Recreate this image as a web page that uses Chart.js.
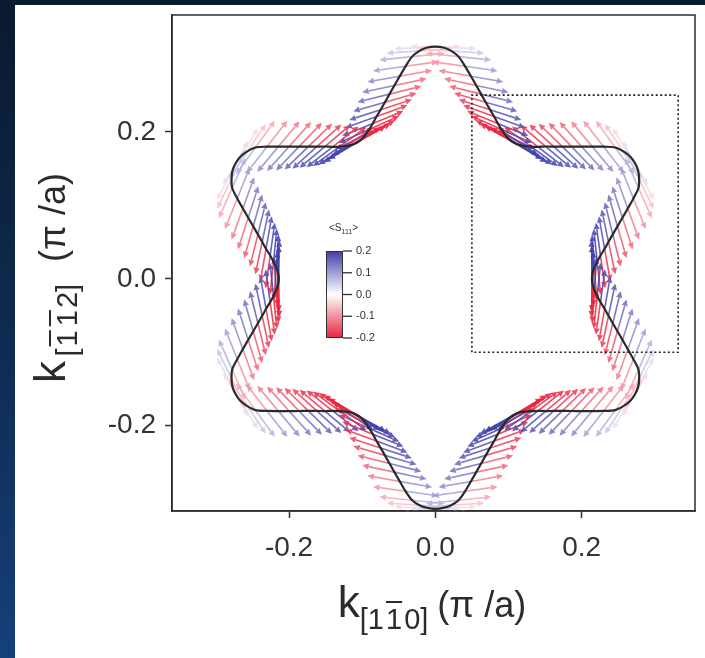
<!DOCTYPE html>
<html>
<head>
<meta charset="utf-8">
<script src="https://cdn.jsdelivr.net/npm/chart.js@4.4.1/dist/chart.umd.min.js"></script>
<style>
  html, body { margin:0; padding:0; width:705px; height:658px; overflow:hidden; }
  body { background: linear-gradient(180deg, #0a1a2f 0%, #0f2c53 55%, #15407a 100%); position:relative; font-family:"Liberation Sans", Arial, sans-serif; }
  #panel { position:absolute; left:15px; top:5px; width:690px; height:653px; background:#fff; }
  #c { position:absolute; left:0; top:0; }
  .title { position:absolute; white-space:nowrap; color:#2b2b2b; text-align:center; }
  .title .k { font-size:44px; }
  .title sub { font-size:29px; vertical-align:-0.42em; }
  .title .u { font-size:36px; margin-left:9px; }
  .ob { text-decoration: overline; text-decoration-thickness:2px; margin:0 2px; }
  #xtitle { left:282px; top:570px; width:300px; height:64px; line-height:64px; }
  #ytitle { left:-110px; top:246px; width:320px; height:64px; line-height:64px; transform:rotate(-90deg); }
  #ytitle .u { margin-left:22px; }
</style>
</head>
<body>
<div id="panel"></div>
<canvas id="c" width="705" height="658"></canvas>
<div id="xtitle" class="title"><span class="k">k</span><sub>[1<span class="ob">1</span>0]</sub><span class="u">(π /a)</span></div>
<div id="ytitle" class="title"><span class="k">k</span> <sub>[<span class="ob">1</span><span class="ob">1</span>2]</sub><span class="u">(π /a)</span></div>
<script>
// ---- Data ----
// Polar angle of each sampled point on the Fermi contour (degrees)
const thetaDeg = [
  0,2,4,6,8,10,12,14,16,18,20,22,24,26,28,30,32,34,36,38,40,42,44,46,48,50,52,54,56,58,
  60,62,64,66,68,70,72,74,76,78,80,82,84,86,88,90,92,94,96,98,100,102,104,106,108,110,112,114,116,118,
  120,122,124,126,128,130,132,134,136,138,140,142,144,146,148,150,152,154,156,158,160,162,164,166,168,170,172,174,176,178,
  180,182,184,186,188,190,192,194,196,198,200,202,204,206,208,210,212,214,216,218,220,222,224,226,228,230,232,234,236,238,
  240,242,244,246,248,250,252,254,256,258,260,262,264,266,268,270,272,274,276,278,280,282,284,286,288,290,292,294,296,298,
  300,302,304,306,308,310,312,314,316,318,320,322,324,326,328,330,332,334,336,338,340,342,344,346,348,350,352,354,356,358
];
// Radius of the contour at each angle (pi/a)
const radius = [
  0.214,0.215,0.218,0.2225,0.228,0.235,0.242,0.250,0.259,0.269,0.280,0.292,0.304,0.310,0.314,0.315,0.314,0.310,0.304,0.292,0.280,0.269,0.259,0.250,0.242,0.235,0.228,0.2225,0.218,0.215,
  0.214,0.215,0.218,0.2225,0.228,0.235,0.242,0.250,0.259,0.269,0.280,0.292,0.304,0.311,0.315,0.316,0.315,0.311,0.304,0.292,0.280,0.269,0.259,0.250,0.242,0.235,0.228,0.2225,0.218,0.215,
  0.214,0.215,0.218,0.2225,0.228,0.235,0.242,0.250,0.259,0.269,0.280,0.292,0.304,0.310,0.314,0.315,0.314,0.310,0.304,0.292,0.280,0.269,0.259,0.250,0.242,0.235,0.228,0.2225,0.218,0.215,
  0.214,0.215,0.218,0.2225,0.228,0.235,0.242,0.250,0.259,0.269,0.280,0.292,0.304,0.310,0.314,0.315,0.314,0.310,0.304,0.292,0.280,0.269,0.259,0.250,0.242,0.235,0.228,0.2225,0.218,0.215,
  0.214,0.215,0.218,0.2225,0.228,0.235,0.242,0.250,0.259,0.269,0.280,0.292,0.303,0.309,0.312,0.313,0.312,0.309,0.303,0.292,0.280,0.269,0.259,0.250,0.242,0.235,0.228,0.2225,0.218,0.215,
  0.214,0.215,0.218,0.2225,0.228,0.235,0.242,0.250,0.259,0.269,0.280,0.292,0.304,0.310,0.314,0.315,0.314,0.310,0.304,0.292,0.280,0.269,0.259,0.250,0.242,0.235,0.228,0.2225,0.218,0.215
];
// In-plane spin direction of the first branch at each point (degrees)
const spinDir = [
  90,92,94,96,98,100,102,104,106,108,110,112,114,116,118,120,122,124,126,128,130,132,134,136,138,140,142,144,146,148,
  150,152,154,156,158,160,162,164,166,168,170,172,174,176,178,180,182,184,186,188,190,192,194,196,198,200,202,204,206,208,
  210,212,214,216,218,220,222,224,226,228,230,232,234,236,238,240,242,244,246,248,250,252,254,256,258,260,262,264,266,268,
  270,272,274,276,278,280,282,284,286,288,290,292,294,296,298,300,302,304,306,308,310,312,314,316,318,320,322,324,326,328,
  330,332,334,336,338,340,342,344,346,348,350,352,354,356,358,0,2,4,6,8,10,12,14,16,18,20,22,24,26,28,
  30,32,34,36,38,40,42,44,46,48,50,52,54,56,58,60,62,64,66,68,70,72,74,76,78,80,82,84,86,88
];
// Out-of-plane spin <S111> of the first branch (arrow along spinDir)
const sBranchA = [
  0.200,0.199,0.196,0.190,0.183,0.173,0.162,0.149,0.134,0.118,0.100,0.081,0.062,0.042,0.021,0.000,-0.021,-0.042,-0.062,-0.081,-0.100,-0.118,-0.134,-0.149,-0.162,-0.173,-0.183,-0.190,-0.196,-0.199,
  -0.200,-0.199,-0.196,-0.190,-0.183,-0.173,-0.162,-0.149,-0.134,-0.118,-0.100,-0.081,-0.062,-0.042,-0.021,0.000,0.021,0.042,0.062,0.081,0.100,0.118,0.134,0.149,0.162,0.173,0.183,0.190,0.196,0.199,
  0.200,0.199,0.196,0.190,0.183,0.173,0.162,0.149,0.134,0.118,0.100,0.081,0.062,0.042,0.021,0.000,-0.021,-0.042,-0.062,-0.081,-0.100,-0.118,-0.134,-0.149,-0.162,-0.173,-0.183,-0.190,-0.196,-0.199,
  -0.200,-0.199,-0.196,-0.190,-0.183,-0.173,-0.162,-0.149,-0.134,-0.118,-0.100,-0.081,-0.062,-0.042,-0.021,0.000,0.021,0.042,0.062,0.081,0.100,0.118,0.134,0.149,0.162,0.173,0.183,0.190,0.196,0.199,
  0.200,0.199,0.196,0.190,0.183,0.173,0.162,0.149,0.134,0.118,0.100,0.081,0.062,0.042,0.021,0.000,-0.021,-0.042,-0.062,-0.081,-0.100,-0.118,-0.134,-0.149,-0.162,-0.173,-0.183,-0.190,-0.196,-0.199,
  -0.200,-0.199,-0.196,-0.190,-0.183,-0.173,-0.162,-0.149,-0.134,-0.118,-0.100,-0.081,-0.062,-0.042,-0.021,0.000,0.021,0.042,0.062,0.081,0.100,0.118,0.134,0.149,0.162,0.173,0.183,0.190,0.196,0.199
];
// Out-of-plane spin <S111> of the second branch (arrow opposite to spinDir)
const sBranchB = [
  -0.200,-0.199,-0.196,-0.190,-0.183,-0.173,-0.162,-0.149,-0.134,-0.118,-0.100,-0.081,-0.062,-0.042,-0.021,0.000,0.021,0.042,0.062,0.081,0.100,0.118,0.134,0.149,0.162,0.173,0.183,0.190,0.196,0.199,
  0.200,0.199,0.196,0.190,0.183,0.173,0.162,0.149,0.134,0.118,0.100,0.081,0.062,0.042,0.021,0.000,-0.021,-0.042,-0.062,-0.081,-0.100,-0.118,-0.134,-0.149,-0.162,-0.173,-0.183,-0.190,-0.196,-0.199,
  -0.200,-0.199,-0.196,-0.190,-0.183,-0.173,-0.162,-0.149,-0.134,-0.118,-0.100,-0.081,-0.062,-0.042,-0.021,0.000,0.021,0.042,0.062,0.081,0.100,0.118,0.134,0.149,0.162,0.173,0.183,0.190,0.196,0.199,
  0.200,0.199,0.196,0.190,0.183,0.173,0.162,0.149,0.134,0.118,0.100,0.081,0.062,0.042,0.021,0.000,-0.021,-0.042,-0.062,-0.081,-0.100,-0.118,-0.134,-0.149,-0.162,-0.173,-0.183,-0.190,-0.196,-0.199,
  -0.200,-0.199,-0.196,-0.190,-0.183,-0.173,-0.162,-0.149,-0.134,-0.118,-0.100,-0.081,-0.062,-0.042,-0.021,0.000,0.021,0.042,0.062,0.081,0.100,0.118,0.134,0.149,0.162,0.173,0.183,0.190,0.196,0.199,
  0.200,0.199,0.196,0.190,0.183,0.173,0.162,0.149,0.134,0.118,0.100,0.081,0.062,0.042,0.021,0.000,-0.021,-0.042,-0.062,-0.081,-0.100,-0.118,-0.134,-0.149,-0.162,-0.173,-0.183,-0.190,-0.196,-0.199
];
// Dotted zoom rectangle corners (pi/a)
const zoomBoxX = [0.05, 0.332];
const zoomBoxY = [-0.1, 0.25];
// Axis ticks
const xTicks = [-0.2, 0.0, 0.2];
const yTicks = [-0.2, 0.0, 0.2];
// Colour-bar ticks for <S111>
const cbarTicks = [0.2, 0.1, 0.0, -0.1, -0.2];
const cbarMax = 0.2;

// ---- Build library tables ----
const rad = Math.PI / 180;
const contourPts = thetaDeg.map((t, i) => ({ x: radius[i] * Math.cos(t * rad), y: radius[i] * Math.sin(t * rad) }));
contourPts.push(contourPts[0]);
const boxPts = [
  { x: zoomBoxX[0], y: zoomBoxY[0] }, { x: zoomBoxX[0], y: zoomBoxY[1] },
  { x: zoomBoxX[1], y: zoomBoxY[1] }, { x: zoomBoxX[1], y: zoomBoxY[0] },
  { x: zoomBoxX[0], y: zoomBoxY[0] }
];

const BLUE = [64, 62, 170], RED = [232, 34, 62];
function spinColor(s, alpha) {
  const t = Math.pow(Math.min(1, Math.abs(s) / cbarMax), 0.8);
  const c = s >= 0 ? BLUE : RED;
  const r = Math.round(255 + (c[0] - 255) * t), g = Math.round(255 + (c[1] - 255) * t), b = Math.round(255 + (c[2] - 255) * t);
  return `rgba(${r},${g},${b},${alpha})`;
}

function drawArrow(ctx, x0, y0, x1, y1, col) {
  const ang = Math.atan2(y1 - y0, x1 - x0);
  const hl = 6.5, hw = 3.1;
  const bx = x1 - hl * Math.cos(ang), by = y1 - hl * Math.sin(ang);
  ctx.strokeStyle = col; ctx.fillStyle = col; ctx.lineWidth = 1.6;
  ctx.beginPath(); ctx.moveTo(x0, y0); ctx.lineTo(bx, by); ctx.stroke();
  ctx.beginPath(); ctx.moveTo(x1, y1);
  ctx.lineTo(bx + hw * Math.sin(ang), by - hw * Math.cos(ang));
  ctx.lineTo(bx - hw * Math.sin(ang), by + hw * Math.cos(ang));
  ctx.closePath(); ctx.fill();
}

const arrowPlugin = {
  id: 'spinArrows',
  beforeDatasetsDraw(chart, args, opts) {
    const { ctx, chartArea, scales: { x, y } } = chart;
    const L = opts.length;
    const list = [];
    thetaDeg.forEach((t, i) => {
      const px = contourPts[i].x, py = contourPts[i].y;
      const dx = Math.cos(spinDir[i] * rad), dy = Math.sin(spinDir[i] * rad);
      list.push({ px, py, dx, dy, s: sBranchA[i] });
      list.push({ px, py, dx: -dx, dy: -dy, s: sBranchB[i] });
    });
    list.sort((a, b) => Math.abs(a.s) - Math.abs(b.s));
    ctx.save();
    ctx.beginPath(); ctx.rect(chartArea.left, chartArea.top, chartArea.width, chartArea.height); ctx.clip();
    list.forEach(a => {
      const x0 = x.getPixelForValue(a.px), y0 = y.getPixelForValue(a.py);
      const x1 = x.getPixelForValue(a.px + L * a.dx), y1 = y.getPixelForValue(a.py + L * a.dy);
      drawArrow(ctx, x0, y0, x1, y1, spinColor(a.s, 0.88));
    });
    ctx.restore();
  }
};

const framePlugin = {
  id: 'frame',
  afterDatasetsDraw(chart) {
    const { ctx, chartArea: a } = chart;
    ctx.save();
    ctx.strokeStyle = '#2e2e2e'; ctx.lineWidth = 1.5;
    ctx.strokeRect(a.left, a.top, a.width, a.height);
    ctx.restore();
  }
};

const colorbarPlugin = {
  id: 'colorbar',
  afterDraw(chart, args, o) {
    const { ctx, chartArea: a } = chart;
    const left = a.left + o.left, top = a.top + o.top, w = o.width, h = o.height;
    ctx.save();
    const g = ctx.createLinearGradient(0, top, 0, top + h);
    g.addColorStop(0, spinColor(cbarMax, 1));
    g.addColorStop(0.5, '#ffffff');
    g.addColorStop(1, spinColor(-cbarMax, 1));
    ctx.fillStyle = g;
    ctx.fillRect(left, top, w, h);
    ctx.strokeStyle = '#333'; ctx.lineWidth = 1;
    ctx.strokeRect(left + 0.5, top + 0.5, w - 1, h - 1);
    ctx.font = '11px "Liberation Sans", Arial, sans-serif';
    ctx.fillStyle = '#333'; ctx.textBaseline = 'middle'; ctx.textAlign = 'left';
    ctx.lineWidth = 1.3;
    cbarTicks.forEach(v => {
      const yy = top + (cbarMax - v) / (2 * cbarMax) * h;
      ctx.beginPath(); ctx.moveTo(left + w, yy); ctx.lineTo(left + w + 9, yy); ctx.stroke();
      ctx.fillText(v.toFixed(1), left + w + 13, yy);
    });
    // title <S111>
    ctx.textAlign = 'left'; ctx.textBaseline = 'alphabetic';
    ctx.font = '10px "Liberation Sans", Arial, sans-serif';
    const tx = left + 3, ty = top - 20;
    ctx.fillText('<S', tx, ty);
    let wv = ctx.measureText('<S').width;
    ctx.font = '7px "Liberation Sans", Arial, sans-serif';
    ctx.fillText('111', tx + wv, ty + 3);
    wv += ctx.measureText('111').width;
    ctx.font = '10px "Liberation Sans", Arial, sans-serif';
    ctx.fillText('>', tx + wv, ty);
    ctx.restore();
  }
};

Chart.register(arrowPlugin, framePlugin, colorbarPlugin);

const tickFont = { family: '"Liberation Sans", Arial, sans-serif', size: 28 };

new Chart(document.getElementById('c'), {
  type: 'scatter',
  data: {
    datasets: [
      { label: 'Fermi contour', data: contourPts, showLine: true, borderColor: '#2a2a2a', borderWidth: 2.2, pointRadius: 0, tension: 0.3, fill: false },
      { label: 'zoom box', data: boxPts, showLine: true, borderColor: '#222', borderWidth: 1.6, borderDash: [2, 2.5], pointRadius: 0, tension: 0, fill: false }
    ]
  },
  options: {
    responsive: false,
    animation: false,
    devicePixelRatio: 1,
    layout: { padding: { left: 0, top: 15, right: 10, bottom: 0 } },
    plugins: {
      legend: { display: false },
      tooltip: { enabled: false },
      spinArrows: { length: 0.045 },
      colorbar: { left: 154, top: 236, width: 17, height: 87 }
    },
    scales: {
      x: {
        type: 'linear', min: -0.36, max: 0.355,
        afterBuildTicks: s => { s.ticks = xTicks.map(v => ({ value: v })); },
        afterFit: s => { s.height = 147; s.paddingLeft = 0; s.paddingRight = 0; },
        ticks: { font: tickFont, color: '#333', padding: 13, maxRotation: 0, callback: v => v.toFixed(1) },
        grid: { drawOnChartArea: false, drawTicks: true, tickLength: 7, color: '#333', tickWidth: 1.5 },
        border: { display: true, color: '#2e2e2e', width: 1.5 }
      },
      y: {
        type: 'linear', min: -0.316, max: 0.359,
        afterBuildTicks: s => { s.ticks = yTicks.map(v => ({ value: v })); },
        afterFit: s => { s.width = 172; s.paddingTop = 0; s.paddingBottom = 0; },
        ticks: { font: tickFont, color: '#333', padding: 9, callback: v => v.toFixed(1) },
        grid: { drawOnChartArea: false, drawTicks: true, tickLength: 7, color: '#333', tickWidth: 1.5 },
        border: { display: true, color: '#2e2e2e', width: 1.5 }
      }
    }
  }
});
</script>
</body>
</html>
